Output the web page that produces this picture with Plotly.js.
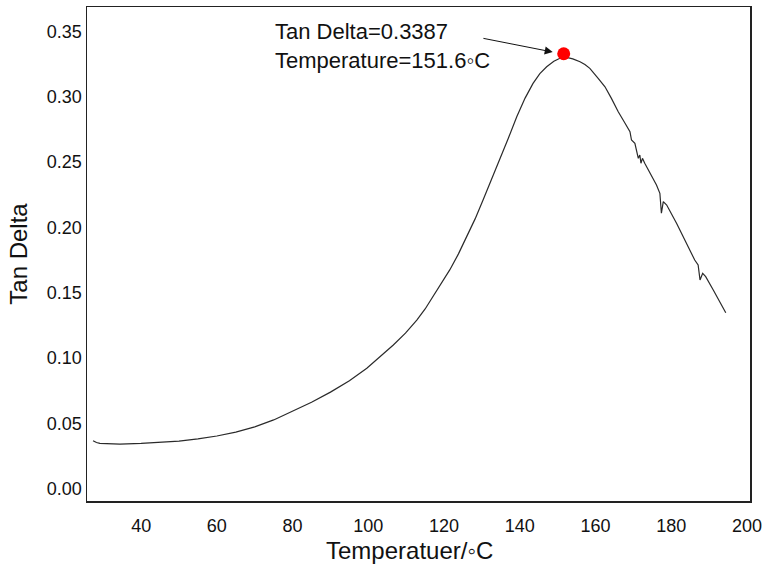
<!DOCTYPE html>
<html>
<head>
<meta charset="utf-8">
<script src="https://cdn.plot.ly/plotly-3.0.1.min.js"></script>
<style>html,body{margin:0;padding:0;background:#fff;}#chart{width:766px;height:570px;}</style>
</head>
<body>
<div id="chart"></div>
<script>
const temperature = [27.3, 28.2, 29.1, 31.5, 34.4, 40.0, 45.0, 50.0, 55.0, 60.0, 65.0, 70.0, 75.0, 80.0, 85.0, 90.0, 95.0, 99.6, 103.0, 106.6, 109.8, 112.8, 115.0, 117.1, 119.3, 121.5, 123.8, 126.0, 128.2, 130.3, 132.5, 134.7, 137.0, 139.2, 141.4, 143.5, 145.3, 147.1, 149.0, 150.6, 151.6, 152.4, 154.0, 155.9, 157.2, 158.5, 160.7, 162.5, 164.2, 166.0, 167.8, 169.1, 169.5, 170.4, 171.3, 171.7, 172.0, 172.4, 173.0, 174.4, 176.1, 177.0, 177.4, 177.9, 178.8, 181.4, 184.0, 186.2, 187.1, 187.6, 188.3, 189.1, 191.1, 192.8, 194.4];
const tanDelta = [0.0366, 0.0352, 0.0345, 0.0340, 0.0339, 0.0345, 0.0352, 0.0363, 0.0380, 0.0402, 0.0432, 0.0472, 0.0525, 0.0590, 0.0660, 0.0738, 0.0825, 0.0921, 0.1005, 0.1099, 0.1190, 0.1290, 0.1375, 0.1469, 0.1568, 0.1674, 0.1797, 0.1928, 0.2065, 0.2210, 0.2362, 0.2516, 0.2685, 0.2848, 0.2990, 0.3103, 0.3178, 0.3230, 0.3272, 0.3295, 0.3302, 0.3302, 0.3291, 0.3269, 0.3247, 0.3218, 0.3142, 0.3077, 0.2988, 0.2886, 0.2797, 0.2733, 0.2669, 0.2644, 0.2529, 0.2554, 0.2491, 0.2529, 0.2491, 0.2414, 0.2324, 0.2261, 0.2108, 0.2197, 0.2171, 0.2031, 0.1878, 0.1750, 0.1712, 0.1597, 0.1648, 0.1622, 0.1520, 0.1431, 0.1346];
const peakTemperature = [151.6];
const peakTanDelta = [0.3330];
const xTicks = [40, 60, 80, 100, 120, 140, 160, 180, 200];
const yTicks = [0.00, 0.05, 0.10, 0.15, 0.20, 0.25, 0.30, 0.35];
const yTickLabels = ['0.00', '0.05', '0.10', '0.15', '0.20', '0.25', '0.30', '0.35'];

const FONT = 'Liberation Sans, Arial, sans-serif';

const traces = [
  {x: temperature, y: tanDelta, type: 'scatter', mode: 'lines',
   line: {color: '#2a2a2a', width: 1.2}, hoverinfo: 'skip'},
  {x: peakTemperature, y: peakTanDelta, type: 'scatter', mode: 'markers',
   marker: {color: '#ff0000', size: 13}, hoverinfo: 'skip'}
];

const layout = {
  width: 766, height: 570,
  margin: {l: 87, r: 16, t: 7, b: 69},
  paper_bgcolor: '#ffffff', plot_bgcolor: '#ffffff',
  showlegend: false,
  font: {family: FONT, color: '#111111', size: 18},
  xaxis: {
    range: [25.7, 200.8], tickvals: xTicks, ticks: 'outside', ticklen: 8,
    tickcolor: 'rgba(0,0,0,0)', showgrid: false, zeroline: false,
    showline: true, mirror: true, linecolor: '#222222', linewidth: 1.5,
    tickfont: {family: FONT, size: 18, color: '#111111'}
  },
  yaxis: {
    range: [-0.0096, 0.3688], tickvals: yTicks, ticktext: yTickLabels, ticks: '',
    showgrid: false, zeroline: false,
    showline: true, mirror: true, linecolor: '#222222', linewidth: 1.5,
    tickfont: {family: FONT, size: 18, color: '#111111'},
    title: {text: 'Tan Delta', font: {family: FONT, size: 24, color: '#111111'}, standoff: 12}
  },
  annotations: [
    {x: 0.487, y: -0.101, xref: 'paper', yref: 'paper', xanchor: 'center', yanchor: 'middle',
     showarrow: false, text: 'Temperatuer/\u25E6C',
     font: {family: FONT, size: 24, color: '#111111'}},
    {x: 74.8, y: 0.3389, xref: 'x', yref: 'y', xanchor: 'left', yanchor: 'middle',
     align: 'left', showarrow: false,
     text: 'Tan Delta=0.3387<br>Temperature=151.6\u25E6C',
     font: {family: FONT, size: 22, color: '#111111'}},
    {x: 148.7, y: 0.3343, ax: 130.0, ay: 0.3450, xref: 'x', yref: 'y', axref: 'x', ayref: 'y',
     text: '', showarrow: true, arrowhead: 2, arrowsize: 1.6, arrowwidth: 1, arrowcolor: '#111111', standoff: 0}
  ]
};

Plotly.newPlot('chart', traces, layout, {displayModeBar: false, staticPlot: true});
</script>
</body>
</html>
